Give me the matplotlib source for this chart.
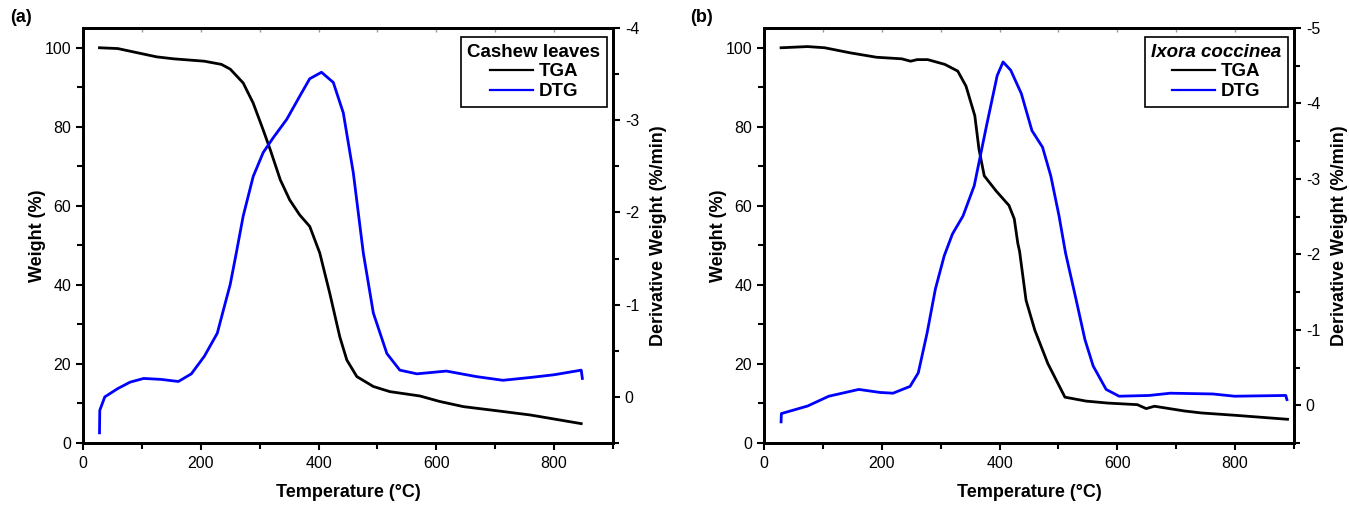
import matplotlib
matplotlib.use("Agg")
import matplotlib.pyplot as plt
from matplotlib.ticker import MultipleLocator, NullFormatter

plt.rcParams["font.family"] = ["Liberation Sans", "DejaVu Sans"]
plt.rcParams["axes.unicode_minus"] = False

# ---- (a) Cashew leaves ----
cash_tga_t = [28, 59, 125, 154, 206, 235, 250, 272, 289, 306, 318, 335, 351, 368, 385, 402,
              419, 436, 448, 465, 493, 521, 572, 606, 646, 706, 759, 779, 846]
cash_tga_w = [100, 99.8, 97.7, 97.2, 96.6, 95.8, 94.6, 91.1, 86.0, 79.2, 74.2, 66.6, 61.5, 57.7,
              54.8, 48.1, 37.9, 26.9, 21.0, 16.8, 14.3, 13.0, 11.9, 10.5, 9.2, 8.1, 7.1, 6.6, 4.9]
cash_dtg_t = [28, 28.5, 37, 59, 80, 103, 132, 162, 184, 206, 228, 240, 250, 260, 272, 289, 306,
              323, 346, 368, 385, 405, 425, 442, 459, 476, 493, 516, 538, 567, 617, 668, 713,
              759, 800, 846, 848]
cash_dtg_v = [0.39, 0.145, 0.0, -0.09, -0.16, -0.2, -0.19, -0.167, -0.25, -0.44, -0.69, -0.98,
              -1.22, -1.55, -1.96, -2.39, -2.65, -2.81, -3.01, -3.26, -3.45, -3.52, -3.41, -3.08,
              -2.43, -1.56, -0.91, -0.47, -0.29, -0.25, -0.28, -0.22, -0.18, -0.21, -0.24, -0.29,
              -0.2]

# ---- (b) Ixora coccinea ----
ix_tga_t = [29, 74, 103, 147, 191, 234, 249, 260, 278, 307, 329, 343, 358, 365, 374, 394,
            416, 425, 431, 434, 445, 460, 482, 511, 547, 584, 634, 649, 663, 714, 743, 801, 889]
ix_tga_w = [100, 100.3, 100, 98.7, 97.6, 97.2, 96.6, 97.0, 97.0, 95.8, 94.1, 90.3, 82.8, 74.4,
            67.6, 63.8, 60.1, 56.7, 50.5, 48.5, 36.1, 28.5, 20.1, 11.6, 10.6, 10.1, 9.7, 8.7,
            9.3, 8.1, 7.6, 7.0, 6.0]
ix_dtg_t = [29, 29.5, 74, 110, 161, 197, 219, 248, 262, 277, 291, 306, 320, 338, 357, 378,
            396, 406, 419, 437, 455, 473, 487, 501, 512, 530, 545, 559, 581, 603, 654, 690,
            762, 799, 886, 888]
ix_dtg_v = [0.22, 0.11, 0.01, -0.12, -0.21, -0.17, -0.16, -0.25, -0.43, -0.96, -1.54, -1.98,
            -2.27, -2.51, -2.91, -3.71, -4.37, -4.55, -4.44, -4.13, -3.64, -3.42, -3.04, -2.51,
            -2.02, -1.40, -0.87, -0.52, -0.21, -0.12, -0.13, -0.16, -0.15, -0.12, -0.13, -0.075]

W, H = 1349, 505
panels = [
    dict(left=83, tag="(a)", tag_x=10, title="Cashew leaves", italic=False, ylim2=(0.5, -4),
         tga=(cash_tga_t, cash_tga_w), dtg=(cash_dtg_t, cash_dtg_v)),
    dict(left=764, tag="(b)", tag_x=690, title="Ixora coccinea", italic=True, ylim2=(0.5, -5),
         tga=(ix_tga_t, ix_tga_w), dtg=(ix_dtg_t, ix_dtg_v)),
]

fig = plt.figure(figsize=(W / 100, H / 100), dpi=100)

for p in panels:
    ax = fig.add_axes([p["left"] / W, 62 / H, 530 / W, 415 / H])
    ax2 = ax.twinx()
    l1, = ax.plot(*p["tga"], color="black", lw=2, solid_joinstyle="round", label="TGA")
    l2, = ax2.plot(*p["dtg"], color="#0000ff", lw=2, solid_joinstyle="round", label="DTG")

    ax.set_xlim(0, 900)
    ax.set_ylim(0, 105)
    ax2.set_ylim(*p["ylim2"])
    ax.xaxis.set_major_locator(MultipleLocator(200))
    ax.xaxis.set_minor_locator(MultipleLocator(100))
    ax.yaxis.set_major_locator(MultipleLocator(20))
    ax.yaxis.set_minor_locator(MultipleLocator(10))
    ax2.yaxis.set_major_locator(MultipleLocator(1))
    ax2.yaxis.set_minor_locator(MultipleLocator(0.5))

    for a in (ax, ax2):
        for s in a.spines.values():
            s.set_linewidth(2)
    ax.tick_params(which="both", direction="out", width=1.5, labelsize=11.5)
    ax.tick_params(which="major", length=5)
    ax.tick_params(which="minor", length=4)
    ax.tick_params(axis="x", pad=4)
    ax2.tick_params(which="both", direction="out", width=1.5, labelsize=11.5)
    ax2.tick_params(which="major", length=5)
    ax2.tick_params(which="minor", length=4)

    # faint inward ticks along the top edge
    top = ax.secondary_xaxis("top")
    top.xaxis.set_major_locator(MultipleLocator(100))
    top.xaxis.set_major_formatter(NullFormatter())
    top.tick_params(direction="in", length=3, width=1, color="#999999")
    top.spines["top"].set_linewidth(2)

    ax.set_xlabel("Temperature (\u00b0C)", fontsize=13, fontweight="bold", labelpad=10)
    ax.set_ylabel("Weight (%)", fontsize=13, fontweight="bold", labelpad=-1)
    ax2.set_ylabel("Derivative Weight (%/min)", fontsize=13, fontweight="bold", labelpad=8)

    leg = ax.legend(handles=[l1, l2], loc="upper right",
                    bbox_to_anchor=(1 - 6 / 530, 1 - 9 / 415), borderaxespad=0,
                    fancybox=False, framealpha=1, edgecolor="black", handlelength=2.3,
                    prop=dict(weight="bold", size=13.5), title=p["title"],
                    title_fontproperties=dict(weight="bold", size=13.5,
                                              style="italic" if p["italic"] else "normal"),
                    labelspacing=0.15, handletextpad=0.3, borderpad=0.35)
    leg.get_frame().set_linewidth(1.2)
    for h in leg.legend_handles:
        h.set_linewidth(1.6)
    leg.set_zorder(10)

    fig.text(p["tag_x"] / W, 1 - 18 / H, p["tag"], fontsize=13, fontweight="bold",
             va="center", ha="left")

fig.savefig("out.png", dpi=100)
